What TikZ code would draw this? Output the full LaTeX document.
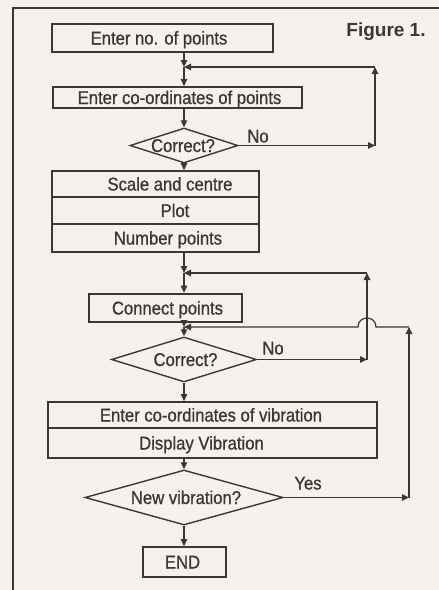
\documentclass[tikz,border=0pt]{standalone}
\usepackage{fontspec}
\setmainfont{Liberation Sans}[FakeStretch=0.9, FakeBold=0.8]
\newfontfamily\figfont{Liberation Sans}
\usetikzlibrary{arrows.meta,shapes.geometric}
\definecolor{paper}{HTML}{F6F1EC}
\definecolor{ink}{HTML}{383838}
\begin{document}
\begin{tikzpicture}[x=1pt,y=-1pt,
  every node/.style={font=\fontsize{18.5}{20}\selectfont, text=ink},
  box/.style={draw=ink, line width=1.8pt, rectangle, inner sep=0pt},
  dia/.style={draw=ink, line width=1.4pt, diamond, inner sep=0pt},
  txt/.style={inner sep=0pt, text height=13pt, text depth=0pt},
  flow/.style={draw=ink, line width=1.2pt},
  arr/.style={flow, -{Triangle[length=7pt,width=6.5pt]}}]

% paper and page frame
\fill[paper] (0,0) rectangle (439,590);
\useasboundingbox (0,0) rectangle (439,590);
\draw[ink, line width=1.5pt] (439,8) -- (13,8) -- (13,590);

% title
\node[txt, font={\figfont\bfseries\fontsize{19}{22}\selectfont}] (fig) at (386,30) {Figure 1.};

% junctions on the main flow line
\coordinate (j1) at (184,67);
\coordinate (j2) at (184,273);
\coordinate (j3) at (184,327);

% process boxes and decisions
\node[box, minimum width=221, minimum height=28] (b1) at (162.5,38) {};
\node[txt] (b1t) at (159,38) {Enter no. of points};

\node[box, minimum width=249, minimum height=21] (b2) at (177.5,97.5) {};
\node[txt] (b2t) at (179.5,97.5) {Enter co-ordinates of points};

\node[dia, minimum width=108, minimum height=35] (d1) at (184,145.5) {};
\node[txt] (d1t) at (183,145.5) {Correct?};

\node[box, minimum width=207, minimum height=26] (s1) at (155.5,184) {};
\node[txt] (s1t) at (170,184) {Scale and centre};
\node[box, minimum width=207, minimum height=27] (s2) at (155.5,210.5) {};
\node[txt] (s2t) at (175,210.5) {Plot};
\node[box, minimum width=207, minimum height=28] (s3) at (155.5,238) {};
\node[txt] (s3t) at (168,238) {Number points};

\node[box, line width=2.6pt, minimum width=153, minimum height=28] (cp) at (165.5,308) {};
\node[txt] (cpt) at (167.5,308) {Connect points};

\node[dia, minimum width=145, minimum height=45] (d2) at (184,359.5) {};
\node[txt] (d2t) at (185.5,359.5) {Correct?};

\node[box, minimum width=329, minimum height=26] (v1) at (212.5,415) {};
\node[txt] (v1t) at (211,415) {Enter co-ordinates of vibration};
\node[box, minimum width=329, minimum height=30] (v2) at (212.5,443) {};
\node[txt] (v2t) at (201.5,443) {Display Vibration};

\node[dia, minimum width=198, minimum height=55] (d3) at (184,497.5) {};
\node[txt] (d3t) at (186,497.5) {New vibration?};

\node[box, minimum width=83, minimum height=30] (end) at (184.5,562) {};
\node[txt] (endt) at (182.5,562) {END};

% main flow
\draw[arr] (b1.south -| j1) -- (j1);
\draw[arr] (j1) -- (b2.north -| j1);
\draw[arr] (b2.south -| j1) -- (d1.north);
\draw[arr] (d1.south) -- (s1.north -| d1.south);
\draw[arr] (s3.south -| j2) -- (j2);
\draw[arr] (j2) -- (cp.north -| j2);
\draw[arr] (cp.south -| j3) -- (j3);
\draw[arr] (j3) -- (d2.north);
\draw[arr] (d2.south) -- (v1.north -| d2.south);
\draw[arr] (v2.south -| d3.north) -- (d3.north);
\draw[arr] (d3.south) -- (end.north -| d3.south);

% loop back from the first check
\coordinate (r1b) at (375,145.5);
\coordinate (r1t) at (375,67);
\draw[arr] (d1.east) -- (r1b);
\draw[arr] (r1b) -- (r1t);
\draw[arr] (r1t) -- (j1);
\node[txt] (no1) at (258,136) {No};

% loop back from the second check
\coordinate (r2b) at (367,359.5);
\coordinate (r2t) at (367,273);
\draw[arr] (d2.east) -- (r2b);
\draw[arr] (r2b) -- (r2t);
\draw[arr] (r2t) -- (j2);
\node[txt] (no2) at (273,348) {No};

% loop back for a new vibration, hopping over the second loop
\coordinate (r3b) at (409,497.5);
\coordinate (r3t) at (409,327);
\coordinate (h1) at (376,327);
\coordinate (h2) at (358,327);
\draw[arr] (d3.east) -- (r3b);
\draw[arr] (r3b) -- (r3t);
\draw[arr] (r3t) -- (h1) .. controls (376,315) and (358,315) .. (h2) -- (j3);
\node[txt] (yes) at (308,483) {Yes};

\end{tikzpicture}
\end{document}
